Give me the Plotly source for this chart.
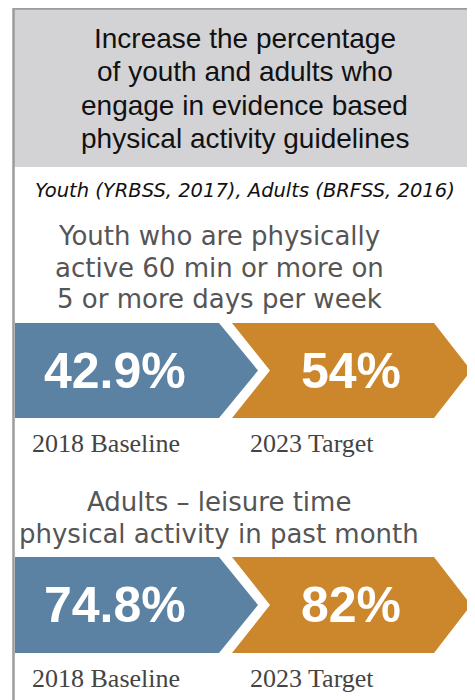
import plotly.graph_objects as go

# ---- data ----
title_lines = ["Increase the percentage", "of youth and adults who",
               "engage in evidence based", "physical activity guidelines"]
source_note = "Youth (YRBSS, 2017), Adults (BRFSS, 2016)"
measure_lines = [
    ["Youth who are physically", "active 60 min or more on", "5 or more days per week"],
    ["Adults \u2013 leisure time", "physical activity in past month"],
]
baseline_values = [42.9, 74.8]
target_values = [54, 82]
baseline_label = "2018 Baseline"
target_label = "2023 Target"

# ---- style / layout ----
W, H = 475, 700
OFF = 8  # page body margin offset compensation
BLUE = "#5b82a3"
ORANGE = "#cc862c"
HEADER = "#d3d3d5"
BORDER = "#9c9c9e"
SANS = "Liberation Sans, Arial, Helvetica, sans-serif"
WIDE = "DejaVu Sans, Verdana, sans-serif"
SERIF = "Liberation Serif, Times New Roman, serif"

L, R, TOP = 13.5, 472, 8.5
HEADER_BOTTOM = 167

blocks = [
    dict(desc_y=[236, 268, 299], top=323, bot=418, label_y=443),
    dict(desc_y=[502, 534], top=557, bot=653, label_y=678),
]
blue_x0, blue_sh, blue_tip = 15, 219, 258
or_x0, or_notch, or_sh, or_tip = 232, 270, 434, 471

fig = go.Figure()
shapes = []
ann = []

shapes.append(dict(type="rect", x0=L, x1=R, y0=TOP, y1=HEADER_BOTTOM,
                   fillcolor=HEADER, line=dict(width=0), layer="below"))

for i, ln in enumerate(title_lines):
    ann.append(dict(x=(L + R) / 2 + 2, y=38 + i * 33.6, text=ln, showarrow=False,
                    xanchor="center", yanchor="middle",
                    font=dict(family=SANS, size=28, color="#111111")))

ann.append(dict(x=(L + R) / 2 + 2, y=190, text=f"<i>{source_note}</i>", showarrow=False,
                xanchor="center", yanchor="middle",
                font=dict(family=WIDE, size=19.5, color="#111111")))

for b, blk in enumerate(blocks):
    for j, ln in enumerate(measure_lines[b]):
        ann.append(dict(x=219, y=blk["desc_y"][j], text=ln, showarrow=False,
                        xanchor="center", yanchor="middle",
                        font=dict(family=WIDE, size=26, color="#555555")))
    t, bt = blk["top"], blk["bot"]
    mid = (t + bt) / 2
    blue_path = (f"M {blue_x0},{t} L {blue_sh},{t} L {blue_tip},{mid} "
                 f"L {blue_sh},{bt} L {blue_x0},{bt} Z")
    or_path = (f"M {or_x0},{t} L {or_sh},{t} L {or_tip},{mid} L {or_sh},{bt} "
               f"L {or_x0},{bt} L {or_notch},{mid} Z")
    shapes.append(dict(type="path", path=blue_path, fillcolor=BLUE, line=dict(width=0)))
    shapes.append(dict(type="path", path=or_path, fillcolor=ORANGE, line=dict(width=0)))
    ann.append(dict(x=115, y=mid, text=f"<b>{baseline_values[b]:g}%</b>", showarrow=False,
                    xanchor="center", yanchor="middle",
                    font=dict(family=SANS, size=50, color="white")))
    ann.append(dict(x=351, y=mid, text=f"<b>{target_values[b]:g}%</b>", showarrow=False,
                    xanchor="center", yanchor="middle",
                    font=dict(family=SANS, size=50, color="white")))
    ann.append(dict(x=30, y=blk["label_y"], text=baseline_label, showarrow=False,
                    xanchor="left", yanchor="middle",
                    font=dict(family=SERIF, size=26, color="#444444")))
    ann.append(dict(x=248, y=blk["label_y"], text=target_label, showarrow=False,
                    xanchor="left", yanchor="middle",
                    font=dict(family=SERIF, size=26, color="#444444")))

shapes.append(dict(type="rect", x0=L, x1=R, y0=TOP, y1=H + 20,
                   fillcolor="rgba(0,0,0,0)", line=dict(color=BORDER, width=2.5)))

fig.update_layout(
    width=W, height=H, margin=dict(l=0, r=0, t=0, b=0),
    paper_bgcolor="white", plot_bgcolor="white",
    xaxis=dict(range=[OFF, W + OFF], visible=False, fixedrange=True),
    yaxis=dict(range=[H + OFF, OFF], visible=False, fixedrange=True),
    shapes=shapes, annotations=ann, showlegend=False,
)
fig.write_html("out.html")
